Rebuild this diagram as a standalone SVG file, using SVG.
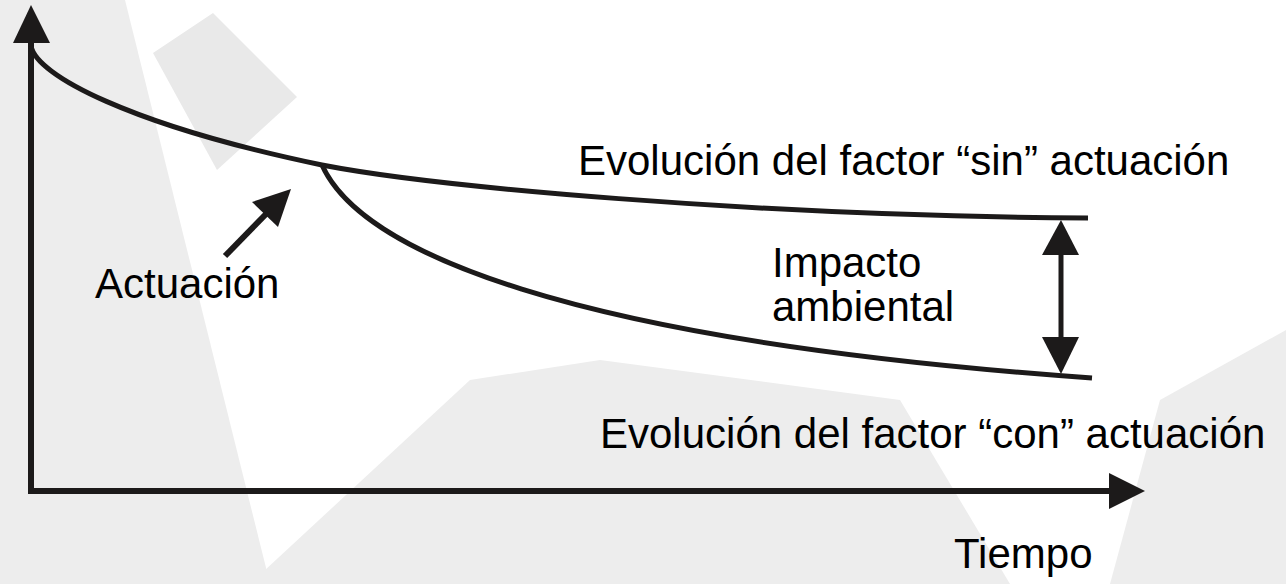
<svg xmlns="http://www.w3.org/2000/svg" width="1286" height="584" viewBox="0 0 1286 584">
  <style>
    .bg { fill: #ededed; }
    .bg2 { fill: #e9e9e9; }
    .line { fill: none; stroke: #1c1a1a; stroke-linecap: butt; }
    .axis { stroke-width: 6; }
    .curve { stroke-width: 5; }
    .head { fill: #1c1a1a; }
    .label { font-family: "Liberation Sans", Arial, sans-serif; font-size: 42px; fill: #000000; }
  </style>
  <rect width="1286" height="584" fill="#ffffff"/>
  <g id="background">
    <polygon class="bg" points="0,0 125,0 270,584 0,584"/>
    <polygon class="bg2" points="153,53 213,13 297,97 217,170"/>
    <polygon class="bg" points="250,584 470,380 600,360 900,400 1010,584"/>
    <polygon class="bg" points="1110,584 1160,400 1286,330 1286,584"/>
  </g>
  <g id="connectors">
    <path id="axes" class="line axis" d="M31,40 V491 H1112" stroke-linejoin="miter"/>
    <polygon class="head" points="31,5 13,43 50,43"/>
    <polygon class="head" points="1145,491 1109,473 1109,509"/>
    <path id="curve-sin" class="line curve" d="M31,46 C36,75 130,125 322,165 C430,186 750,216 1088,218"/>
    <path id="curve-con" class="line curve" d="M322,165 C360,250 560,340 1092,378"/>
    <g id="impact-arrow">
      <line class="line" x1="1061" y1="250" x2="1061" y2="342" stroke-width="5"/>
      <polygon class="head" points="1061,220 1042,255 1079,255"/>
      <polygon class="head" points="1061,374 1042,337 1079,337"/>
    </g>
    <g id="actuacion-arrow">
      <line class="line" x1="225" y1="256" x2="268" y2="212" stroke-width="6"/>
      <polygon class="head" points="291,189 252,202 278,227"/>
    </g>
  </g>
  <g id="label-sin"><text class="label" x="578" y="175">Evolución del factor “sin” actuación</text></g>
  <g id="label-con"><text class="label" x="600" y="448">Evolución del factor “con” actuación</text></g>
  <g id="label-impacto"><text class="label" x="772" y="277">Impacto</text><text class="label" x="772" y="321">ambiental</text></g>
  <g id="label-actuacion"><text class="label" x="95" y="298">Actuación</text></g>
  <g id="label-tiempo"><text class="label" x="954" y="568">Tiempo</text></g>
</svg>
